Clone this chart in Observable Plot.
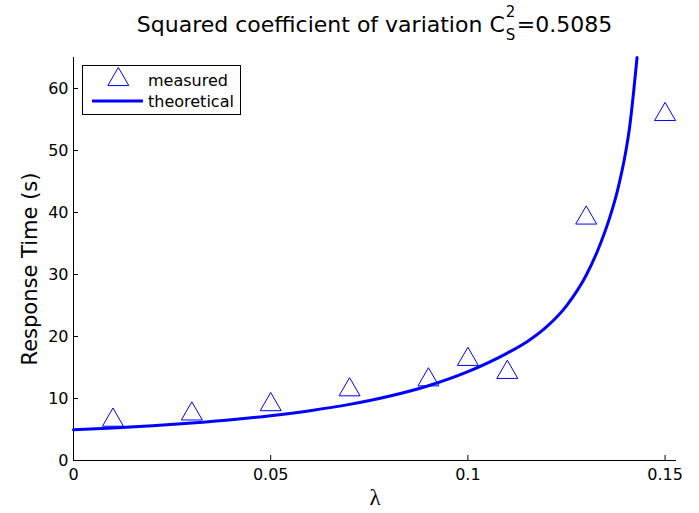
<!DOCTYPE html>
<html>
<head>
<meta charset="utf-8">
<script src="https://cdn.jsdelivr.net/npm/d3@7"></script>
<script src="https://cdn.jsdelivr.net/npm/@observablehq/plot@0.6"></script>
<style>
  body { margin: 0; background: #fff; font-family: "DejaVu Sans", sans-serif; color: #000; }
  #wrap { position: relative; width: 699px; height: 513px; overflow: hidden; }
  #title { position: absolute; left: 73px; width: 603px; top: 14px; height: 22px; line-height: 22px;
           font-size: 22px; text-align: center; white-space: nowrap; }
  #title .ss { display: inline-block; position: relative; width: 12px; height: 0; }
  #title .ss span { position: absolute; left: 1px; font-size: 15px; line-height: 15px; }
  #title .ss .sup { top: -27px; }
  #title .ss .sub { top: -4px; }
  #chart { position: absolute; left: 0; top: 46px; }
  #legend { position: absolute; left: 82px; top: 65px; }
</style>
</head>
<body>
<div id="wrap">
  <div id="title">Squared coefficient of variation C<span class="ss"><span class="sup">2</span><span class="sub">S</span></span>=0.5085</div>
  <div id="chart"></div>
  <svg id="legend" width="160" height="51" font-family="DejaVu Sans, sans-serif" font-size="16">
    <rect x="0.5" y="0.5" width="158" height="49" fill="#fff" stroke="#000" stroke-width="1"></rect>
    <path id="legend-marker" fill="none" stroke="#0000ff" stroke-width="1"></path>
    <line x1="10" x2="61" y1="36" y2="36" stroke="#0000ff" stroke-width="3"></line>
    <text x="66" y="21">measured</text>
    <text x="66" y="42">theoretical</text>
  </svg>
</div>
<script>
// Measured mean response times (s) at each arrival rate λ
const lambdaMeasured = [0.01, 0.03, 0.05, 0.07, 0.09, 0.10, 0.11, 0.13, 0.15];
const timeMeasured   = [7.0, 8.0, 9.5, 11.9, 13.5, 16.8, 14.7, 39.6, 56.3];

// Theoretical response-time curve, sampled along λ
const lambdaTheory = [0, 0.01, 0.02, 0.03, 0.04, 0.05, 0.06, 0.07, 0.08, 0.09, 0.10, 0.11,
                      0.115, 0.12, 0.125, 0.13, 0.133, 0.136, 0.138, 0.14, 0.141, 0.142, 0.1429];
const timeTheory   = [4.95, 5.25, 5.60, 6.04, 6.57, 7.23, 8.04, 9.05, 10.36, 12.06, 14.33, 17.32,
                      19.15, 21.58, 24.95, 29.87, 34.0, 39.25, 43.7, 49.7, 53.7, 59.3, 65.0];

// Axis ticks and their labels
const xTicks = [0, 0.05, 0.1, 0.15];
const xTickLabels = ["0", "0.05", "0.1", "0.15"];
const yTicks = [0, 10, 20, 30, 40, 50, 60];
const yTickLabels = ["0", "10", "20", "30", "40", "50", "60"];

const measured = lambdaMeasured.map((x, i) => ({x, y: timeMeasured[i]}));
const theory = lambdaTheory.map((x, i) => ({x, y: timeTheory[i]}));

// Open upward triangle centred on its bounding box (half-side = r)
const triangleUp = {
  draw(context, size) {
    const r = Math.sqrt(size / Math.PI);
    const h = r * Math.sqrt(3) / 2;
    context.moveTo(0, -h);
    context.lineTo(r, h);
    context.lineTo(-r, h);
    context.closePath();
  }
};

const markerR = 10.5;

const chart = Plot.plot({
  width: 699,
  height: 467,
  marginTop: 11,
  marginBottom: 53,
  marginLeft: 73,
  marginRight: 23,
  style: {fontFamily: "DejaVu Sans, sans-serif", fontSize: "16px", color: "#000", background: "#fff"},
  x: {domain: [0, 0.1529]},
  y: {domain: [0, 65]},
  marks: [
    Plot.axisX(xTicks, {tickSize: -5, tickPadding: 13, tickFormat: d => xTickLabels[xTicks.indexOf(d)], label: null, fontSize: 16}),
    Plot.axisY(yTicks, {tickSize: -5, tickPadding: 10, tickFormat: d => yTickLabels[yTicks.indexOf(d)], label: null, fontSize: 16}),
    Plot.ruleY([0], {stroke: "#000"}),
    Plot.ruleX([0], {stroke: "#000"}),
    Plot.line(theory, {x: "x", y: "y", stroke: "#0000ff", strokeWidth: 3, curve: "monotone-x"}),
    Plot.dot(measured, {x: "x", y: "y", symbol: triangleUp, r: markerR, stroke: "#0000ff", fill: "none", strokeWidth: 1}),
    Plot.text(["Response Time (s)"], {frameAnchor: "left", textAnchor: "middle", lineAnchor: "middle", rotate: -90, dx: -43, dy: 10, fontSize: 21}),
    Plot.text(["λ"], {frameAnchor: "bottom", textAnchor: "middle", lineAnchor: "middle", dy: 37, fontSize: 23, fontFamily: "Liberation Serif, serif"})
  ]
});
document.getElementById("chart").appendChild(chart);

// Legend marker uses the same triangle shape as the plotted points
const markerPath = d3.path();
triangleUp.draw(markerPath, markerR * markerR * Math.PI);
d3.select("#legend-marker").attr("d", markerPath.toString()).attr("transform", "translate(36.3,11.5)");
</script>
</body>
</html>
